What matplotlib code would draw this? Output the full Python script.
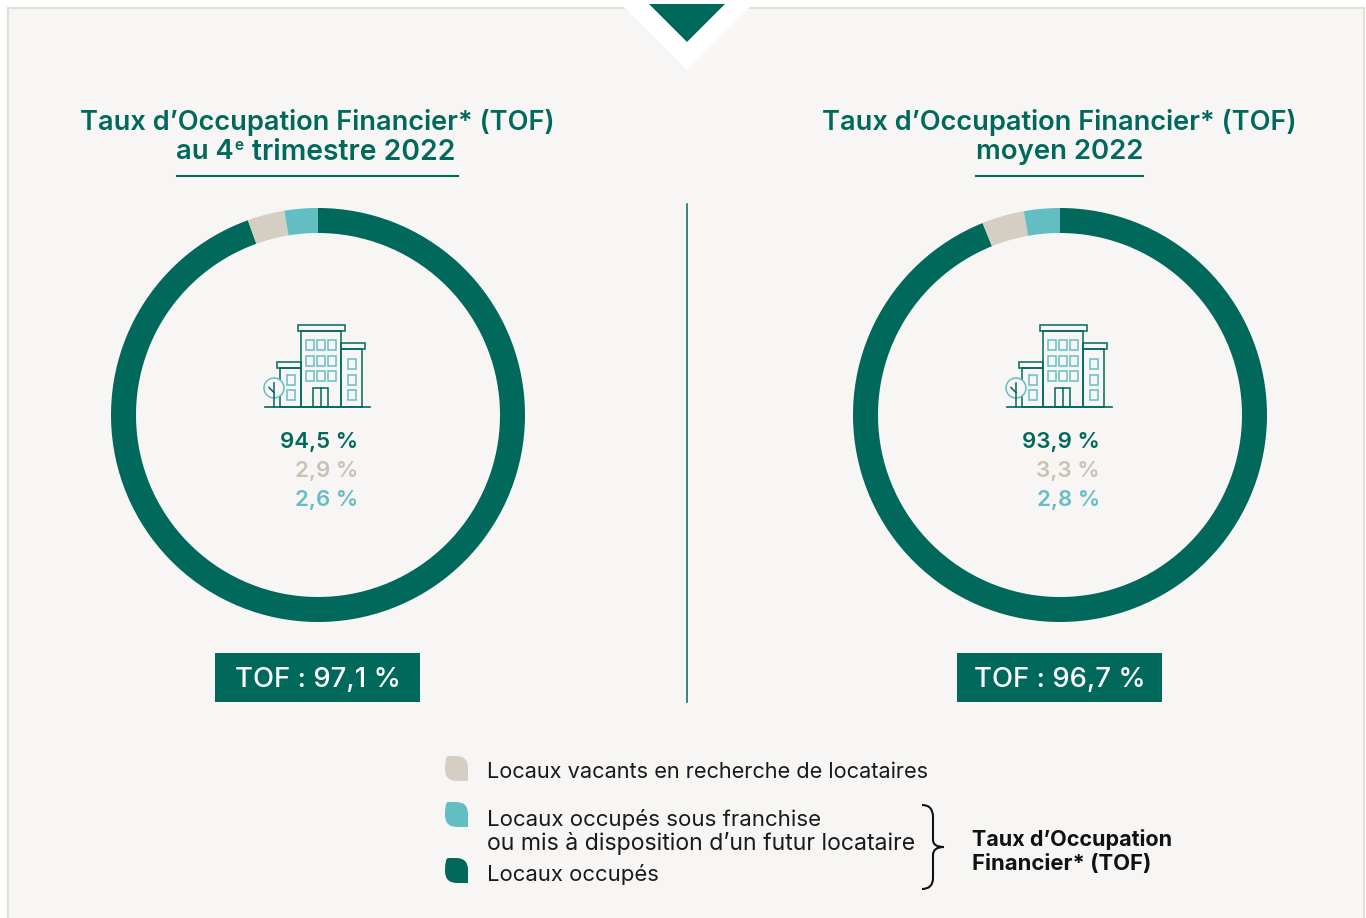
import matplotlib
matplotlib.use("Agg")
import matplotlib.pyplot as plt
from matplotlib.patches import Polygon, Rectangle, Circle, PathPatch
from matplotlib.path import Path

W, H = 1366, 918
DARK, BEIGE, TEAL = "#00695C", "#D5CEC2", "#63BEC4"
BG, EDGE = "#F7F6F4", "#E4DFD6"

panel_title = "Taux d’Occupation Financier* (TOF)"
occupied = [94.5, 93.9]
vacant = [2.9, 3.3]
franchise = [2.6, 2.8]
occupied_labels = ["94,5 %", "93,9 %"]
vacant_labels = ["2,9 %", "3,3 %"]
franchise_labels = ["2,6 %", "2,8 %"]
tof_labels = ["TOF : 97,1 %", "TOF : 96,7 %"]
centers = [318, 1060]

plt.rcParams["font.family"] = ["Inter", "Lato", "DejaVu Sans"]
fig = plt.figure(figsize=(W / 100, H / 100), dpi=100, facecolor="white")
ax = fig.add_axes([0, 0, 1, 1], zorder=2)
ax.set_xlim(0, W)
ax.set_ylim(H, 0)
ax.axis("off")
ax.patch.set_alpha(0)

bgax = fig.add_axes([0, 0, 1, 1], zorder=0)
bgax.set_xlim(0, W)
bgax.set_ylim(H, 0)
bgax.axis("off")
bgax.add_patch(Rectangle((8, 8), W - 10, H, fc=BG, ec=EDGE, lw=1.5))
bgax.add_patch(Polygon([(617, 0), (757, 0), (687, 70)], fc="white", ec="none"))
bgax.add_patch(Polygon([(649, 4), (725, 4), (687, 42)], fc=DARK, ec="none"))


def icon(ox):
    d = ox - 318
    lw = 1.1
    for x, y, w, h in [(297.5, 325, 47, 6), (300.5, 331, 40.5, 75.5), (341, 343, 23.5, 6),
                       (341, 349, 20.5, 57.5), (277, 362, 23.5, 6), (280, 368, 20.5, 38.5),
                       (313, 387.5, 15, 19)]:
        ax.add_patch(Rectangle((x + d, y), w, h, fc="none", ec=DARK, lw=lw))
    ax.plot([265 + d, 370 + d], [406.5, 406.5], color=DARK, lw=1.2)
    ax.plot([320.5 + d, 320.5 + d], [387.5, 406.5], color=DARK, lw=lw)
    wins = [(x, y, 7.5, 10) for x in (306, 317, 328) for y in (339.5, 355.5, 371)]
    wins += [(348, y, 7.5, 10) for y in (359, 375, 390)]
    wins += [(287, y, 7.5, 10) for y in (374.5, 390)]
    for x, y, w, h in wins:
        ax.add_patch(Rectangle((x + d, y), w, h, fc="none", ec=TEAL, lw=lw))
    ax.add_patch(Circle((274 + d, 388), 10, fc=BG, ec=TEAL, lw=lw))
    ax.plot([274 + d, 274 + d], [383, 406.5], color=DARK, lw=lw)
    ax.plot([269 + d, 274 + d], [387.5, 392.5], color=DARK, lw=lw)


for i, cx in enumerate(centers):
    r = 207
    a = fig.add_axes([(cx - r) / W, 1 - (415 + r) / H, 2 * r / W, 2 * r / H], zorder=1)
    a.pie([occupied[i], vacant[i], franchise[i]], colors=[DARK, BEIGE, TEAL], startangle=90,
          counterclock=False, radius=1, wedgeprops=dict(width=25 / 207, linewidth=0))
    a.set_xlim(-1, 1)
    a.set_ylim(-1, 1)
    a.set_aspect("equal")

    ax.text(cx - 1, 122, panel_title, color=DARK, fontsize=19.6, weight="semibold",
            ha="center", va="center")
    icon(cx)
    for y, lab, col in [(442, occupied_labels[i], DARK), (471, vacant_labels[i], "#C9C1B4"),
                        (500, franchise_labels[i], TEAL)]:
        ax.text(cx + 40, y, lab, color=col, fontsize=16, weight="semibold", ha="right", va="center")
    ax.add_patch(Rectangle((cx - 103, 653), 205, 49, fc=DARK, ec="none"))
    ax.text(cx - 0.5, 680, tof_labels[i], color="white", fontsize=19.8, weight="medium",
            ha="center", va="center")

# second title lines
ax.text(234, 152, "au 4", color=DARK, fontsize=19.8, weight="semibold", ha="right", va="center")
ax.text(234.5, 145, "e", color=DARK, fontsize=11, weight="semibold", ha="left", va="center")
ax.text(252, 152, "trimestre 2022", color=DARK, fontsize=20.4, weight="semibold", ha="left", va="center")
ax.text(1059.5, 152, "moyen 2022", color=DARK, fontsize=19.8, weight="semibold", ha="center", va="center")
ax.plot([177, 458], [176, 176], color=DARK, lw=1.5)
ax.plot([976, 1143], [176, 176], color=DARK, lw=1.5)
ax.plot([687, 687], [204, 702], color=DARK, lw=1.1)


def leaf(x, y, col, w=23, h=25):
    v = [(x + 3, y), (x + w - 12, y), (x + w, y), (x + w, y + 12), (x + w, y + h),
         (x + 12, y + h), (x, y + h), (x, y + 13), (x, y), (x + 3, y), (x + 3, y)]
    c = [Path.MOVETO, Path.LINETO, Path.CURVE3, Path.CURVE3, Path.LINETO, Path.LINETO,
         Path.CURVE3, Path.CURVE3, Path.CURVE3, Path.CURVE3, Path.CLOSEPOLY]
    ax.add_patch(PathPatch(Path(v, c), fc=col, ec="none"))


leaf(445, 756, BEIGE)
leaf(445, 802, TEAL)
leaf(445, 858, DARK)

legend_labels = ["Locaux vacants en recherche de locataires", "Locaux occupés sous franchise",
                 "ou mis à disposition d’un futur locataire", "Locaux occupés"]
legend_sizes = [15.65, 16.0, 16.6, 15.9]
for lab, y, fs in zip(legend_labels, [772.5, 819.5, 843.5, 874.5], legend_sizes):
    ax.text(487, y, lab, color="#1A1A1A", fontsize=fs, ha="left", va="center")

bv = [(922, 805), (933, 805), (933, 817), (933, 840), (933, 847), (944, 847),
      (933, 847), (933, 855), (933, 878), (933, 889), (922, 889)]
bc = [Path.MOVETO, Path.CURVE3, Path.CURVE3, Path.LINETO, Path.CURVE3, Path.CURVE3,
      Path.CURVE3, Path.CURVE3, Path.LINETO, Path.CURVE3, Path.CURVE3]
ax.add_patch(PathPatch(Path(bv, bc), fc="none", ec="#111111", lw=1.5))
ax.text(972, 840, "Taux d’Occupation", color="#111111", fontsize=15.5, weight="bold", va="center")
ax.text(972, 864, "Financier* (TOF)", color="#111111", fontsize=15.9, weight="bold", va="center")

fig.savefig("out.png", dpi=100, facecolor="white")
